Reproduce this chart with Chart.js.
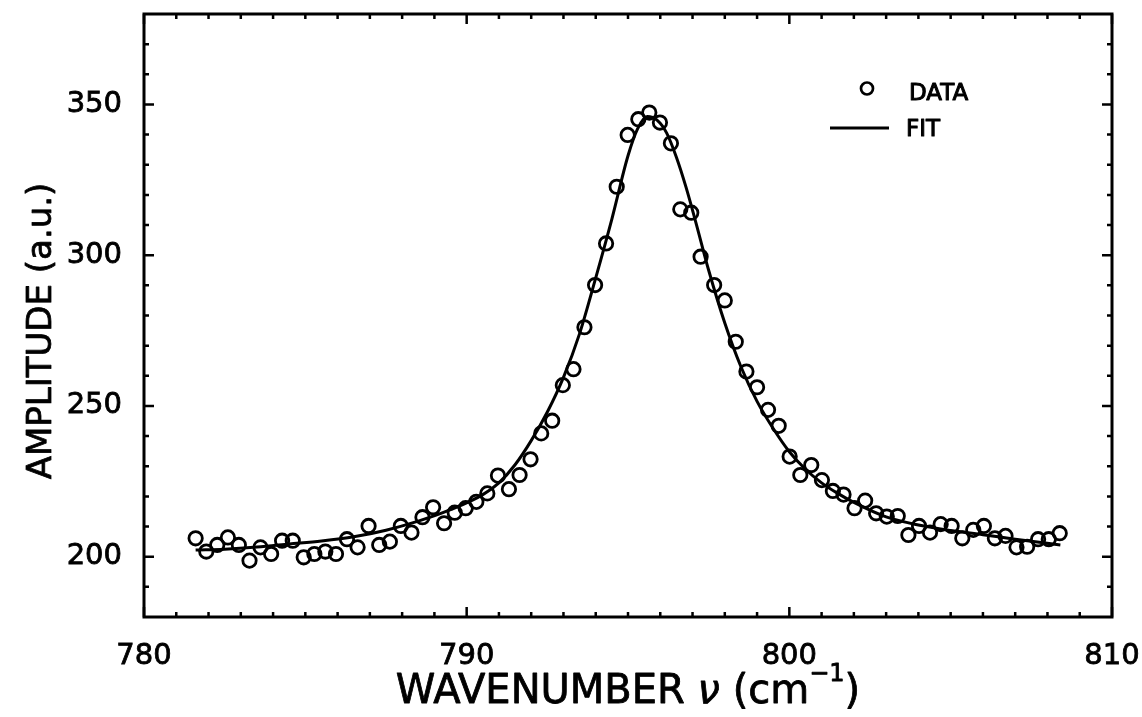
<!DOCTYPE html>
<html>
<head>
<meta charset="utf-8">
<script src="https://cdn.jsdelivr.net/npm/chart.js@4/dist/chart.umd.min.js"></script>
<style>
  html, body { margin: 0; padding: 0; background: #fff; }
  #plot { display: block; }
</style>
</head>
<body>
<canvas id="plot" width="1142" height="717"></canvas>
<script>
// ── measured points (wavenumber, amplitude) ──
const dataX = [
  781.60, 781.93, 782.27, 782.60, 782.94, 783.27, 783.61, 783.94, 784.28, 784.61,
  784.95, 785.28, 785.62, 785.95, 786.29, 786.62, 786.96, 787.29, 787.62, 787.96,
  788.29, 788.63, 788.96, 789.30, 789.63, 789.97, 790.30, 790.64, 790.97, 791.31,
  791.64, 791.98, 792.31, 792.65, 792.98, 793.31, 793.65, 793.98, 794.32, 794.65,
  794.99, 795.32, 795.66, 795.99, 796.33, 796.62, 796.96, 797.25, 797.67, 798.00,
  798.34, 798.67, 799.00, 799.34, 799.67, 800.01, 800.34, 800.68, 801.01, 801.35,
  801.68, 802.02, 802.35, 802.69, 803.02, 803.36, 803.69, 804.02, 804.36, 804.69,
  805.03, 805.36, 805.70, 806.03, 806.37, 806.70, 807.04, 807.37, 807.71, 808.04,
  808.38
];
const dataY = [
  206.1, 201.7, 203.9, 206.4, 203.9, 198.7, 203.1, 200.9, 205.3, 205.3,
  199.8, 200.9, 201.7, 200.9, 205.8, 203.1, 210.2, 203.9, 205.0, 210.2,
  208.0, 213.1, 216.4, 211.1, 214.6, 216.1, 218.2, 221.0, 226.9, 222.4,
  227.1, 232.3, 240.9, 245.1, 256.9, 262.2, 276.1, 290.1, 303.9, 322.7,
  339.9, 345.1, 347.3, 344.0, 337.1, 315.2, 314.1, 299.5, 290.1, 285.0,
  271.3, 261.4, 256.2, 248.7, 243.4, 233.2, 227.1, 230.4, 225.4, 221.8,
  220.6, 216.1, 218.6, 214.4, 213.3, 213.5, 207.2, 210.2, 208.0, 210.8,
  210.2, 206.1, 208.9, 210.2, 206.1, 206.9, 203.1, 203.3, 205.8, 205.8,
  207.8
];

// ── fitted curve ──
const fitX = [
  781.6, 782.5, 783.5, 784.5, 785.5, 786.5, 787.5, 788.5, 789.5, 790.5,
  791.0, 791.5, 792.0, 792.5, 793.0, 793.5, 794.0, 794.5, 795.0, 795.3,
  795.6, 795.9, 796.2, 796.5, 796.8, 797.1, 797.5, 798.0, 798.5, 799.0,
  799.5, 800.0, 800.5, 801.0, 801.5, 802.0, 803.0, 804.0, 805.0, 806.0,
  807.0, 808.4
];
const fitY = [
  202.2, 202.5, 203.2, 204.2, 205.2, 206.6, 208.8, 211.8, 215.6, 220.6,
  224.5, 230.5, 238.5, 248.0, 259.5, 274.0, 292.5, 312.0, 333.0, 342.0,
  346.0, 344.8, 340.5, 332.5, 322.5, 311.0, 295.0, 277.5, 263.0, 251.5,
  242.5, 234.8, 229.0, 224.5, 221.0, 218.0, 213.2, 210.5, 208.7, 207.3,
  205.8, 203.9
];

const xTicks = [780, 790, 800, 810];
const yTicks = [200, 250, 300, 350];
const xMinor = [781, 782, 783, 784, 785, 786, 787, 788, 789, 791, 792, 793, 794, 795,
  796, 797, 798, 799, 801, 802, 803, 804, 805, 806, 807, 808, 809];
const yMinor = [190, 210, 220, 230, 240, 260, 270, 280, 290, 310, 320, 330, 340, 360, 370];

const FONT = "'DejaVu Sans', sans-serif";

// keep tick-label overhang from shrinking the plot box
function noPad(s) {
  s.paddingLeft = 0; s.paddingRight = 0; s.paddingTop = 0; s.paddingBottom = 0;
}

// filled + thin stroke, the scan has heavy lettering
function heavyText(ctx, str, x, y) {
  ctx.fillText(str, x, y);
  ctx.strokeText(str, x, y);
}

// frame, inward ticks on all four sides, axis titles and legend
const framePlugin = {
  id: 'frame',
  afterDraw(chart) {
    const {ctx, chartArea: a, scales: {x, y}} = chart;
    ctx.save();
    ctx.strokeStyle = '#000';
    ctx.fillStyle = '#000';

    ctx.lineWidth = 3;
    ctx.strokeRect(a.left, a.top, a.right - a.left, a.bottom - a.top);

    ctx.lineWidth = 2.5;
    ctx.beginPath();
    const xt = (v, len) => {
      const px = x.getPixelForValue(v);
      ctx.moveTo(px, a.bottom); ctx.lineTo(px, a.bottom - len);
      ctx.moveTo(px, a.top); ctx.lineTo(px, a.top + len);
    };
    const yt = (v, len) => {
      const py = y.getPixelForValue(v);
      ctx.moveTo(a.left, py); ctx.lineTo(a.left + len, py);
      ctx.moveTo(a.right, py); ctx.lineTo(a.right - len, py);
    };
    xTicks.forEach(v => xt(v, 10));
    xMinor.forEach(v => xt(v, 5));
    yTicks.forEach(v => yt(v, 10));
    yMinor.forEach(v => yt(v, 5));
    ctx.stroke();

    ctx.lineWidth = 0.8;
    ctx.lineJoin = 'round';

    // x title with superscript
    const midX = (a.left + a.right) / 2;
    const base = 703;
    ctx.textBaseline = 'alphabetic';
    ctx.textAlign = 'left';
    const f1 = `40px ${FONT}`, fNu = `italic 40px ${FONT}`, fSup = `24px ${FONT}`;
    const parts = [
      ['WAVENUMBER ', f1, 0], ['ν', fNu, 0], [' (cm', f1, 0], ['−1', fSup, -22], [')', f1, 0]
    ];
    let total = 0;
    parts.forEach(p => { ctx.font = p[1]; total += ctx.measureText(p[0]).width; });
    let cx = midX - total / 2;
    parts.forEach(p => {
      ctx.font = p[1];
      heavyText(ctx, p[0], cx, base + p[2]);
      cx += ctx.measureText(p[0]).width;
    });

    // y title
    ctx.save();
    ctx.translate(51, 331);
    ctx.rotate(-Math.PI / 2);
    ctx.font = `34px ${FONT}`;
    ctx.textAlign = 'center';
    heavyText(ctx, 'AMPLITUDE (a.u.)', 0, 0);
    ctx.restore();

    // legend
    const ds = chart.data.datasets;
    ctx.font = `23px ${FONT}`;
    ctx.textAlign = 'left';
    ctx.textBaseline = 'alphabetic';
    ctx.lineWidth = 1;
    heavyText(ctx, ds[0].label, 909, 100);
    heavyText(ctx, ds[1].label, 906, 136);
    ctx.lineWidth = 2.7;
    ctx.beginPath();
    ctx.arc(867, 88.5, 6, 0, Math.PI * 2);
    ctx.stroke();
    ctx.lineWidth = 3;
    ctx.beginPath();
    ctx.moveTo(830, 128); ctx.lineTo(889, 128);
    ctx.stroke();

    ctx.restore();
  }
};

const tickFont = {family: FONT, size: 29};

new Chart(document.getElementById('plot'), {
  type: 'scatter',
  data: {
    datasets: [
      {
        label: 'DATA',
        data: dataX.map((v, i) => ({x: v, y: dataY[i]})),
        pointStyle: 'circle',
        pointRadius: 6.7,
        pointBorderWidth: 2.8,
        borderColor: '#000',
        backgroundColor: 'rgba(0,0,0,0)',
        showLine: false
      },
      {
        label: 'FIT',
        data: fitX.map((v, i) => ({x: v, y: fitY[i]})),
        showLine: true,
        borderColor: '#000',
        borderWidth: 3,
        pointRadius: 0,
        cubicInterpolationMode: 'monotone',
        fill: false
      }
    ]
  },
  options: {
    responsive: false,
    devicePixelRatio: 1,
    animation: false,
    layout: {padding: {left: 0, right: 30, top: 14, bottom: 0}},
    plugins: {legend: {display: false}, tooltip: {enabled: false}},
    scales: {
      x: {
        type: 'linear', position: 'bottom', min: 780, max: 810,
        afterFit: s => { s.height = 100; noPad(s); },
        afterBuildTicks: s => { s.ticks = xTicks.map(v => ({value: v})); },
        grid: {display: false, drawTicks: false},
        border: {display: false},
        ticks: {color: '#000', font: tickFont, padding: 22, maxRotation: 0, autoSkip: false,
                textStrokeColor: '#000', textStrokeWidth: 0.8}
      },
      y: {
        type: 'linear', position: 'left', min: 180, max: 380,
        afterFit: s => { s.width = 144; noPad(s); },
        afterBuildTicks: s => { s.ticks = yTicks.map(v => ({value: v})); },
        grid: {display: false, drawTicks: false},
        border: {display: false},
        ticks: {color: '#000', font: tickFont, padding: 22,
                textStrokeColor: '#000', textStrokeWidth: 0.8}
      }
    }
  },
  plugins: [framePlugin]
});
</script>
</body>
</html>
